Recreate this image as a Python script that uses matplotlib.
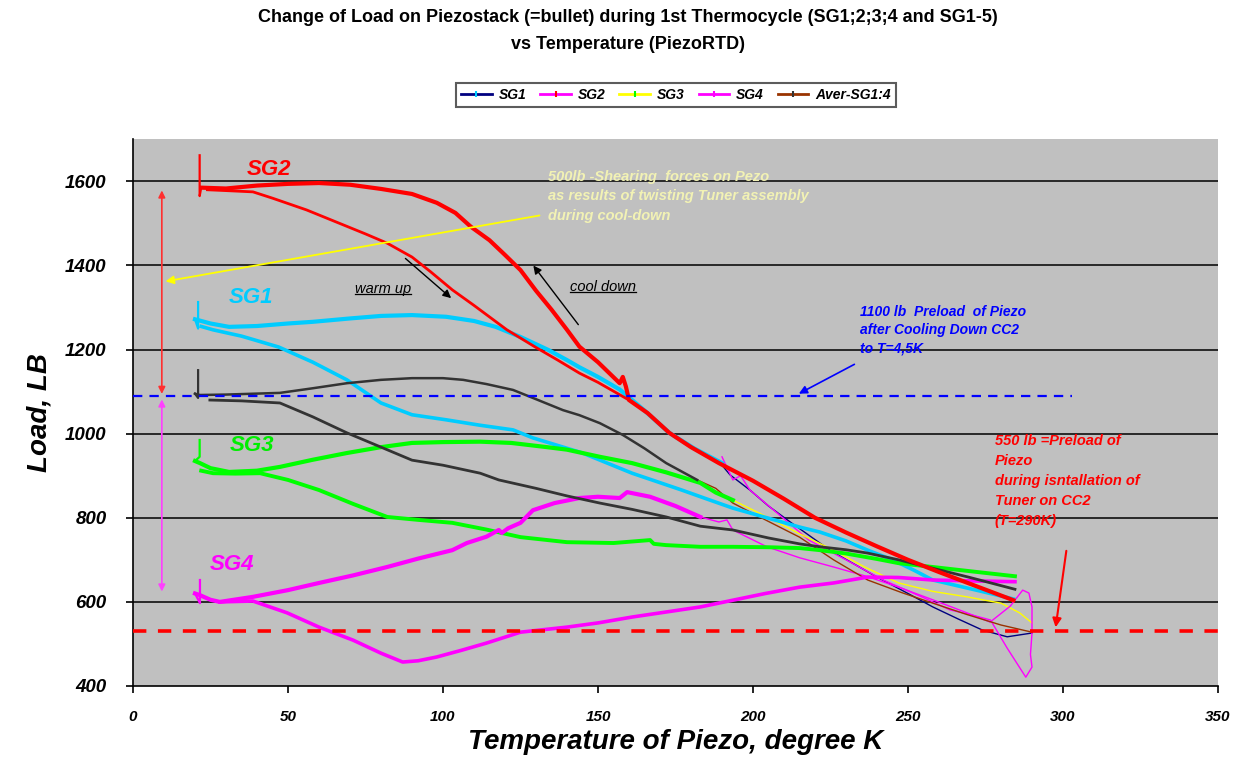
import matplotlib.pyplot as plt
from matplotlib.lines import Line2D

plt.rcParams['font.family'] = ['Liberation Sans', 'DejaVu Sans']

# --- strain gauge loads vs piezo temperature (K, LB) ---
# SG1
sg1_up_t = [21, 21, 20, 22, 25, 31, 40, 50, 58, 70, 80, 90, 101, 110, 117, 125, 134, 140, 144, 150, 157, 165, 173, 181, 190]
sg1_up_load = [1313, 1250, 1272, 1268, 1262, 1254, 1256, 1262, 1266, 1274, 1280, 1282, 1278, 1268, 1254, 1230, 1199, 1175, 1158, 1135, 1105, 1055, 1002, 965, 930]
sg1_low_t = [22, 25.8, 35, 47, 58, 69, 80, 90, 101, 112, 122.6, 129, 137, 145, 153, 161, 169, 177, 185, 193.5, 204.5, 215, 221.6, 230, 237, 245, 252, 258, 265, 272, 284]
sg1_low_load = [1255, 1247, 1232, 1206, 1170, 1128, 1073, 1045, 1033, 1020, 1009, 990, 972, 954, 930, 906, 886, 866, 845, 823, 800, 778, 766, 745, 723, 700, 675, 652, 640, 628, 607]
sg1_tail_t = [190, 192.6, 199, 205, 212, 225, 240, 250, 258, 266, 274, 282, 290]
sg1_tail_load = [925, 902, 866, 828, 790, 722, 659, 620, 588, 560, 533, 517, 526]

# SG2
sg2_up_t = [21.5, 21.5, 22, 30, 40, 50, 60, 70, 80, 90, 98, 104, 109, 115, 120, 125, 130, 135, 140, 144, 150, 157, 158, 159, 160, 166, 173, 180, 189, 200, 210, 220, 230, 240, 250, 260, 270, 284]
sg2_up_load = [1662, 1565, 1585, 1583, 1590, 1594, 1596, 1592, 1582, 1570, 1549, 1525, 1492, 1460, 1425, 1389, 1340, 1295, 1247, 1207, 1170, 1120, 1135, 1112, 1080, 1049, 1002, 968, 930, 888, 845, 800, 765, 732, 700, 671, 643, 604]
sg2_low_t = [24, 30, 38.7, 45, 56, 65, 75, 82, 90, 96, 103, 110, 120.6, 130, 137, 144, 150, 160]
sg2_low_load = [1580, 1578, 1575, 1560, 1532, 1505, 1475, 1453, 1420, 1385, 1342, 1305, 1247, 1205, 1175, 1144, 1122, 1080]
sg2_tail_t = [190, 193.5, 196, 199, 208, 218, 230, 242, 255, 263.5, 270, 276.6, 282, 288, 290, 289.5, 290]
sg2_tail_load = [945, 890, 900, 866, 810, 747, 700, 652, 610, 581, 570, 557, 490, 421, 445, 475, 526]

# SG3
sg3_up_t = [21.5, 21.5, 20, 21.6, 25, 31, 40, 47.4, 58, 69, 80, 90, 100, 112, 122, 133.5, 140, 150.6, 161, 172, 183, 188, 193.5]
sg3_up_load = [985, 945, 935, 930, 918, 909, 912, 921, 938, 954, 968, 978, 980, 981, 978, 968, 962, 945, 930, 908, 883, 860, 842]
sg3_low_t = [22, 25.8, 33, 41, 50, 60, 71, 82, 92, 103, 114, 125, 140, 155, 166.8, 168, 172, 183, 193.5, 205, 215, 221.6, 230, 240, 247, 258, 270, 284.5]
sg3_low_load = [912, 906, 905, 906, 890, 866, 833, 802, 795, 788, 772, 754, 742, 740, 747, 738, 735, 731, 731, 730, 728, 723, 715, 702, 692, 683, 673, 661]
sg3_tail_t = [193.5, 204.5, 215, 226, 236, 247, 258, 269, 280, 286, 290]
sg3_tail_load = [842, 802, 762, 723, 683, 645, 625, 612, 597, 574, 550]

# SG4
sg4_up_t = [21.6, 21.6, 20, 21.6, 25, 28, 38.7, 50, 60, 71, 82, 92, 103, 107.7, 114, 118, 119, 121, 125, 129, 136, 144, 150, 157, 159.4, 166.8, 175, 183]
sg4_up_load = [652, 597, 620, 616, 605, 600, 612, 628, 645, 663, 683, 703, 723, 740, 755, 771, 764, 775, 788, 818, 835, 847, 850, 847, 861, 850, 828, 802]
sg4_low_t = [28, 38.7, 49.7, 60, 71, 80, 87, 92, 98, 106, 114, 125, 140, 150, 161, 172, 183, 193.5, 204, 215, 226, 237, 247, 258, 270, 284.5]
sg4_low_load = [600, 602, 574, 540, 509, 478, 457, 460, 469, 485, 502, 528, 540, 550, 564, 576, 588, 604, 620, 635, 645, 659, 658, 652, 650, 648]
sg4_tail_t = [183, 189, 191.6, 193.5, 204.5, 215, 226, 237, 247, 258, 269, 276.5, 283, 287, 289, 290, 290, 290]
sg4_tail_load = [802, 790, 795, 771, 731, 705, 683, 660, 635, 605, 574, 552, 590, 628, 621, 588, 540, 530]

# average of SG1..SG4
avg_up_t = [21, 21, 20, 21.6, 30, 47.4, 58, 69, 80, 90, 100, 106.5, 114, 122.6, 130, 138.7, 144, 150.6, 158, 165, 172, 182]
avg_up_load = [1151, 1085, 1095, 1092, 1093, 1097, 1108, 1120, 1128, 1132, 1132, 1128, 1118, 1104, 1082, 1056, 1044, 1025, 997, 965, 930, 890]
avg_low_t = [24.8, 35, 47.4, 58, 69, 80, 90, 100, 112, 118, 130, 140, 150.6, 161, 172, 183, 193.5, 205, 215, 221.6, 230, 237, 247, 258, 270, 284.5]
avg_low_load = [1080, 1078, 1073, 1040, 1002, 968, 937, 925, 906, 890, 870, 852, 835, 820, 802, 780, 771, 752, 738, 731, 724, 716, 700, 680, 658, 630]
avg_tail_t = [182, 188, 193.5, 204, 215, 226, 237, 248, 258, 269, 280, 290]
avg_tail_load = [890, 870, 835, 795, 754, 700, 652, 622, 597, 570, 545, 528]

series_names = ['SG1', 'SG2', 'SG3', 'SG4', 'Aver-SG1:4']
line_colors = ['#000080', '#FF00FF', '#FFFF00', '#FF00FF', '#993300']
marker_colors = ['#00CCFF', '#FF0000', '#00FF00', '#FF00FF', '#333333']

preload_cold = 1090   # after cool down
preload_warm = 530    # at installation

fig = plt.figure(figsize=(12.34, 7.58), dpi=100)
ax = fig.add_axes([133 / 1234, 72 / 758, 1085 / 1234, 546.7 / 758])
ax.set_facecolor('#C0C0C0')
ax.set_xlim(0, 350)
ax.set_ylim(400, 1700)
ax.set_xticks(range(0, 351, 50))
ax.set_yticks(range(400, 1601, 200))
for y in range(600, 1601, 200):
    ax.axhline(y, color='black', lw=1.1, zorder=1)
for s in ['top', 'right']:
    ax.spines[s].set_visible(False)
for s in ['left', 'bottom']:
    ax.spines[s].set_linewidth(1.2)

# thin tails drawn with the series line colour
tails = [(sg1_tail_t, sg1_tail_load), (sg2_tail_t, sg2_tail_load), (sg3_tail_t, sg3_tail_load),
         (sg4_tail_t, sg4_tail_load), (avg_tail_t, avg_tail_load)]
for (t, l), c in zip(tails, line_colors):
    ax.plot(t, l, color=c, lw=1.0, zorder=3)


def upper(t, l, color, lw, z=4):
    # the first three points are the jump right after reaching the coldest point
    ax.plot(t[:3], l[:3], color=color, lw=1.6, zorder=z)
    ax.plot(t[2:], l[2:], color=color, lw=lw, zorder=z)


ax.plot(sg1_low_t, sg1_low_load, color=marker_colors[0], lw=2.6, zorder=4)
upper(sg1_up_t, sg1_up_load, marker_colors[0], 3.0)
ax.plot(sg3_low_t, sg3_low_load, color=marker_colors[2], lw=2.8, zorder=4)
upper(sg3_up_t, sg3_up_load, marker_colors[2], 3.0)
ax.plot(sg4_low_t, sg4_low_load, color=marker_colors[3], lw=2.6, zorder=4)
upper(sg4_up_t, sg4_up_load, marker_colors[3], 3.0)
ax.plot(avg_low_t, avg_low_load, color=marker_colors[4], lw=2.0, zorder=4)
upper(avg_up_t, avg_up_load, marker_colors[4], 1.8)
ax.plot(sg2_low_t, sg2_low_load, color=marker_colors[1], lw=2.0, zorder=5)
upper(sg2_up_t, sg2_up_load, marker_colors[1], 3.0, z=5)

# preload reference lines
ax.plot([0, 303], [preload_cold] * 2, color='#0000FF', lw=1.6, dashes=(4.2, 3.2), zorder=6)
ax.plot([0, 350], [preload_warm] * 2, color='#FF0000', lw=2.6, dashes=(3.7, 3.2), zorder=6)

ax.tick_params(axis='y', length=5, width=1.2, pad=14, labelsize=13.5)
ax.tick_params(axis='x', length=5, width=1.2, pad=12, labelsize=11)
for lab in ax.get_xticklabels() + ax.get_yticklabels():
    lab.set_fontweight('bold')
    lab.set_fontstyle('italic')

ax.set_xlabel('Temperature of Piezo, degree K', fontsize=20, fontweight='bold', fontstyle='italic', labelpad=4)
ax.set_ylabel('Load, LB', fontsize=20, fontweight='bold', fontstyle='italic', labelpad=9)

fig.text(0.509, 1 - 9 / 758, 'Change of Load on Piezostack (=bullet) during 1st Thermocycle (SG1;2;3;4 and SG1-5)\nvs Temperature (PiezoRTD)',
         ha='center', va='top', fontsize=13, fontweight='bold', linespacing=1.8)

handles = [Line2D([], [], color=lc, lw=2, marker='|', markersize=4, markeredgecolor=mc, markeredgewidth=1.5)
           for lc, mc in zip(line_colors, marker_colors)]
leg = fig.legend(handles, series_names, loc='center', bbox_to_anchor=(676 / 1234, 1 - 95 / 758), ncol=5,
                 frameon=True, fancybox=False, handlelength=2.2, columnspacing=1.0, handletextpad=0.5,
                 borderpad=0.35, prop=dict(family='Liberation Sans', weight='bold', style='italic', size=10))
leg.get_frame().set_edgecolor('#333333')
leg.get_frame().set_linewidth(1.5)

# curve labels
lab = dict(fontsize=16, fontweight='bold', fontstyle='italic', ha='center', va='center', zorder=7)
ax.text(44, 1627, 'SG2', color='#FF0000', **lab)
ax.text(38, 1323, 'SG1', color='#00CCFF', **lab)
ax.text(38.5, 973, 'SG3', color='#00EE00', **lab)
ax.text(32, 688, 'SG4', color='#FF00FF', **lab)

# load change arrows
ax.annotate('', xy=(9.3, 1585), xytext=(9.3, 1088),
            arrowprops=dict(arrowstyle='<|-|>', color='#FF3030', lw=1.2, mutation_scale=10))
ax.annotate('', xy=(9.3, 618), xytext=(9.3, 1088),
            arrowprops=dict(arrowstyle='<|-|>', color='#FF40FF', lw=1.2, mutation_scale=10))

ann = dict(fontsize=10.5, fontweight='bold', fontstyle='italic', zorder=7)
ax.text(134, 1627, '500lb -Shearing  forces on Pezo\nas results of twisting Tuner assembly\nduring cool-down',
        color='#F2F2B4', ha='left', va='top', linespacing=1.5, **ann)
ax.annotate('', xy=(9.6, 1361), xytext=(132, 1520),
            arrowprops=dict(arrowstyle='-|>', color='#FFFF00', lw=1.3, mutation_scale=12), zorder=7)

ax.text(234.5, 1305, '1100 lb  Preload  of Piezo\nafter Cooling Down CC2\nto T=4,5K',
        color='#0000FF', ha='left', va='top', linespacing=1.35, fontsize=10, fontweight='bold', fontstyle='italic')
ax.annotate('', xy=(214, 1092), xytext=(233.5, 1168),
            arrowprops=dict(arrowstyle='-|>', color='#0000FF', lw=1.2, mutation_scale=12))

ax.text(278, 1000, '550 lb =Preload of\nPiezo\nduring isntallation of\nTuner on CC2\n(T=290K)',
        color='#FF0000', ha='left', va='top', linespacing=1.55, fontsize=10.5, fontweight='bold', fontstyle='italic')
ax.annotate('', xy=(297.5, 533), xytext=(301.2, 728),
            arrowprops=dict(arrowstyle='-|>', color='#FF0000', lw=1.5, mutation_scale=13))

# warm up / cool down direction markers
warm = ax.text(80.6, 1344, 'warm up', ha='center', va='center', fontsize=10.5, fontstyle='italic', zorder=7)
cool = ax.text(151.6, 1349, 'cool down', ha='center', va='center', fontsize=10.5, fontstyle='italic', zorder=7)
ax.annotate('', xy=(103.3, 1318), xytext=(87.2, 1421),
            arrowprops=dict(arrowstyle='-|>', color='black', lw=1.0, mutation_scale=12))
ax.annotate('', xy=(128.6, 1405), xytext=(144.2, 1254),
            arrowprops=dict(arrowstyle='-|>', color='black', lw=1.0, mutation_scale=12))

# underline the direction labels
fig.canvas.draw()
inv = fig.transFigure.inverted()
for t in [warm, cool]:
    bb = t.get_window_extent().transformed(inv)
    fig.add_artist(Line2D([bb.x0, bb.x1], [bb.y0 + 0.002, bb.y0 + 0.002], transform=fig.transFigure,
                          color='black', lw=0.9))

fig.savefig('out.png', dpi=100)
